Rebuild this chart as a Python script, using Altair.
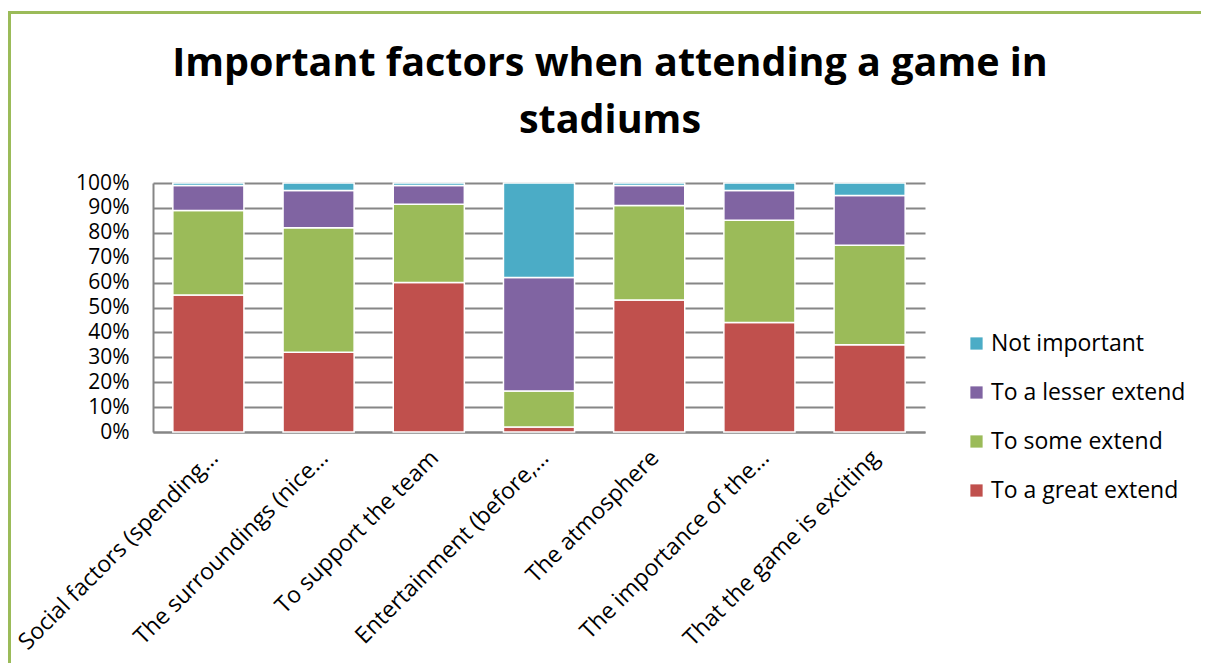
import altair as alt
import pandas as pd

categories = [
    "Social factors (spending…",
    "The surroundings (nice…",
    "To support the team",
    "Entertainment (before,…",
    "The atmosphere",
    "The importance of the…",
    "That the game is exciting",
]
series = ["To a great extend", "To some extend", "To a lesser extend", "Not important"]
great = [55, 32, 60, 2, 53, 44, 35]
some = [34, 50, 31.5, 14.5, 38, 41, 40]
lesser = [10, 15, 7.5, 45.5, 8, 12, 20]
notimp = [1, 3, 1, 38, 1, 3, 5]

rows = []
for vals, s, o in zip([great, some, lesser, notimp], series, range(4)):
    for c, v in zip(categories, vals):
        rows.append({"cat": c, "series": s, "value": v, "ord": o})
df = pd.DataFrame(rows)

FONT = "Open Sans"

legend_order = ["Not important", "To a lesser extend", "To some extend", "To a great extend"]
legend_colors = ["#4BACC6", "#8064A2", "#9BBB59", "#C0504D"]

bars = alt.Chart(df).mark_bar(stroke="white", strokeWidth=1.5).encode(
    x=alt.X("cat:N", sort=categories, title=None,
            scale=alt.Scale(paddingInner=0.355, paddingOuter=0.18),
            axis=alt.Axis(labelAngle=-45, labelFontSize=23, labelFont=FONT, labelColor="black",
                          labelAlign="right", labelBaseline="middle", labelPadding=22,
                          labelOffset=6,
                          ticks=False, domainColor="#868686", domainWidth=2, labelLimit=400)),
    y=alt.Y("value:Q", stack="normalize", title=None,
            scale=alt.Scale(domain=[0, 1], nice=False),
            axis=alt.Axis(format=".0%", values=[i / 10 for i in range(11)], labelFontSize=21,
                          labelFont=FONT, labelColor="black", labelPadding=24, ticks=False,
                          gridColor="#868686", gridWidth=2, domainColor="#868686", domainWidth=2)),
    color=alt.Color("series:N", scale=alt.Scale(domain=legend_order, range=legend_colors),
                    legend=alt.Legend(title=None, orient="none", legendX=812, legendY=149,
                                      labelFontSize=23, labelFont=FONT, labelColor="black",
                                      labelLimit=400,
                                      symbolType="square", symbolSize=150, symbolStrokeWidth=0,
                                      rowPadding=25, labelOffset=3)),
    order=alt.Order("ord:Q", sort="ascending"),
)

frame_df = pd.DataFrame({"k": [0]})
top_line = alt.Chart(frame_df).mark_rule(color="#9BBB59", strokeWidth=3, clip=False).encode(
    x=alt.value(-145), x2=alt.value(1060), y=alt.value(-170.5))
left_line = alt.Chart(frame_df).mark_rule(color="#9BBB59", strokeWidth=3, clip=False).encode(
    x=alt.value(-143.5), y=alt.value(-172), y2=alt.value(490))

chart = alt.layer(bars, top_line, left_line).properties(
    width=772, height=249,
    autosize=alt.AutoSizeParams(type="none"),
    padding={"left": 145, "top": 175, "right": 276, "bottom": 231},
    title=alt.TitleParams(["Important factors when attending a game in", "stadiums"],
                          font=FONT, fontSize=39.5, fontWeight="bold", color="black",
                          anchor="middle", dx=71, dy=162, lineHeight=57, offset=30),
).configure_view(stroke=None).configure_axis(grid=True).configure_axisX(grid=False)

chart.save("out.html", embed_options={"renderer": "svg", "actions": False})
